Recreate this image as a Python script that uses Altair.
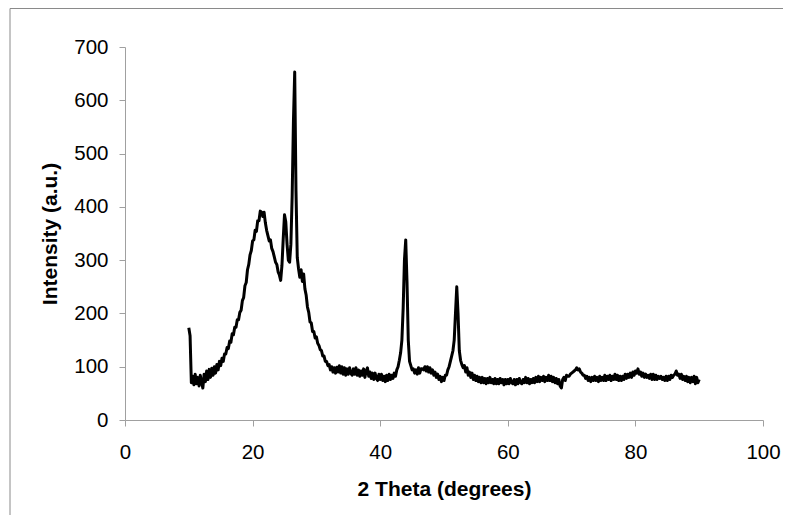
import altair as alt
import numpy as np
import pandas as pd

# 2-theta grid (degrees), 0.2 degree step from 10 to 90
theta = np.round(np.arange(10.0, 90.0001, 0.2), 1)

# intensity (a.u.), one row per 2 degrees
intensity = [
    173, 158, 70, 82, 66, 86, 68, 80, 64, 84,        # 10
    70, 60, 86, 72, 92, 76, 95, 80, 97, 84,          # 12
    100, 88, 104, 94, 110, 102, 116, 110, 124, 124,  # 14
    136, 134, 148, 146, 162, 160, 174, 174, 188, 188,  # 16
    202, 206, 224, 230, 252, 258, 282, 292, 310, 318,  # 18
    336, 338, 356, 354, 374, 374, 392, 390, 382, 390,  # 20
    370, 356, 346, 336, 338, 322, 316, 306, 296, 292,  # 22
    278, 272, 262, 290, 340, 385, 372, 330, 300, 296,  # 24
    330, 420, 560, 653, 430, 305, 284, 268, 282, 260,  # 26
    274, 246, 234, 212, 202, 184, 182, 166, 166, 154,  # 28
    156, 144, 140, 132, 130, 120, 120, 110, 110, 102,  # 30
    104, 94, 100, 90, 98, 88, 99, 90, 102, 88,       # 32
    100, 86, 98, 84, 96, 86, 98, 88, 84, 96,         # 34
    86, 98, 84, 94, 82, 92, 84, 96, 80, 92,          # 36
    98, 82, 90, 78, 88, 76, 88, 78, 74, 86,          # 38
    76, 86, 74, 82, 72, 84, 74, 86, 76, 84,          # 40
    78, 88, 82, 94, 100, 112, 126, 150, 210, 300,    # 42
    338, 260, 150, 110, 102, 94, 96, 88, 94, 86,     # 44
    98, 88, 96, 96, 94, 100, 92, 100, 90, 98,        # 46
    88, 94, 84, 90, 80, 86, 76, 82, 72, 80,          # 48
    74, 84, 84, 94, 100, 110, 120, 130, 150, 200,    # 50
    250, 200, 130, 112, 104, 98, 102, 90, 98, 84,    # 52
    90, 80, 88, 76, 84, 74, 82, 72, 80, 70,          # 54
    80, 70, 78, 68, 78, 70, 80, 70, 76, 68,          # 56
    78, 68, 76, 68, 78, 70, 76, 66, 76, 68,          # 58
    76, 68, 78, 70, 68, 76, 66, 76, 68, 78,          # 60
    70, 68, 76, 70, 80, 70, 78, 68, 76, 70,          # 62
    78, 70, 80, 72, 82, 72, 80, 74, 82, 72,          # 64
    80, 74, 84, 74, 82, 72, 80, 70, 78, 68,          # 66
    76, 64, 60, 76, 80, 74, 84, 82, 82, 86,          # 68
    88, 90, 92, 94, 98, 94, 96, 90, 88, 84,          # 70
    84, 78, 82, 74, 80, 72, 80, 74, 82, 74,          # 72
    80, 72, 82, 74, 80, 74, 84, 74, 82, 76,          # 74
    84, 74, 82, 76, 86, 76, 84, 74, 82, 74,          # 76
    82, 76, 86, 78, 86, 80, 88, 80, 90, 84,          # 78
    92, 88, 96, 86, 90, 82, 88, 80, 86, 80,          # 80
    84, 78, 86, 76, 86, 76, 84, 76, 82, 78,          # 82
    82, 76, 80, 74, 82, 74, 82, 76, 84, 80,          # 84
    84, 86, 92, 84, 86, 78, 86, 76, 82, 74,          # 86
    82, 72, 80, 70, 80, 72, 82, 68, 80, 70,          # 88
    76,                                              # 90
]

x_ticks = [0, 20, 40, 60, 80, 100]
y_ticks = [0, 100, 200, 300, 400, 500, 600, 700]

df = pd.DataFrame({"theta": theta, "intensity": intensity})

FONT = "Liberation Sans"
AXIS_GRAY = "#a0a0a0"

line = alt.Chart(df).mark_line(
    color="black", strokeWidth=3, strokeJoin="round"
).encode(
    x=alt.X(
        "theta:Q",
        scale=alt.Scale(domain=[0, 100], nice=False),
        axis=alt.Axis(
            values=x_ticks, title="2 Theta (degrees)", grid=False,
            domainColor=AXIS_GRAY, tickColor=AXIS_GRAY, tickSize=6,
            labelFont=FONT, labelFontSize=20.5, labelColor="black",
            labelPadding=16, labelFlush=False, labelOverlap=False,
            titleFont=FONT, titleFontSize=21, titleFontWeight="bold",
            titleColor="black", titleBaseline="alphabetic", titleY=75.5,
        ),
    ),
    y=alt.Y(
        "intensity:Q",
        scale=alt.Scale(domain=[0, 700], nice=False),
        axis=alt.Axis(
            values=y_ticks, title="Intensity (a.u.)", grid=False,
            domainColor=AXIS_GRAY, tickColor=AXIS_GRAY, tickSize=6,
            labelFont=FONT, labelFontSize=20.5, labelColor="black",
            labelPadding=11, labelOverlap=False,
            titleFont=FONT, titleFontSize=21, titleFontWeight="bold",
            titleColor="black", titleBaseline="alphabetic", titleX=-69,
        ),
    ),
)

frame_src = alt.Chart(pd.DataFrame({"k": [0]})).mark_rule(color="#8a8a8a", strokeWidth=1)
frame_left = frame_src.encode(x=alt.value(-115), y=alt.value(-38.5), y2=alt.value(470))
frame_top = frame_src.encode(x=alt.value(-115), x2=alt.value(660), y=alt.value(-38.5))

chart = alt.layer(frame_left, frame_top, line).properties(
    width=638,
    height=373,
    autosize="none",
    padding={"left": 117, "top": 39, "right": 20, "bottom": 95},
    background="white",
).configure_view(stroke=None)

chart.save("out.html", embed_options={"renderer": "svg", "actions": False})
